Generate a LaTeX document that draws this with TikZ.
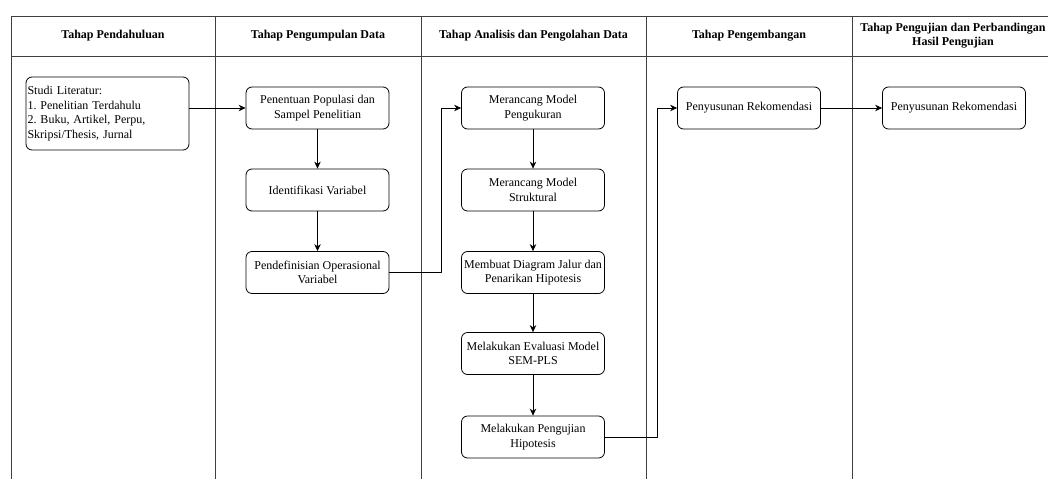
\documentclass[tikz,border=0pt]{standalone}
\usepackage{fontspec}
\setmainfont{Liberation Serif}
\usetikzlibrary{arrows.meta}
\frenchspacing
\begin{document}
\begin{tikzpicture}[x=1pt,y=-1pt,>={Stealth[length=7pt,width=6.5pt]}, line join=round,
	font=\fontsize{12}{14.5}\selectfont,
	kotak/.style={draw,rounded corners=6pt,line width=0.8pt,minimum width=143pt,minimum height=42pt,align=center,inner sep=1pt},
	judul/.style={font=\fontsize{12}{14}\selectfont\bfseries,align=center},
	garis/.style={line width=0.8pt}]
	\useasboundingbox (0,0) rectangle (1048,479);
	% tabel
	\draw[garis,black!75] (11,16)--(1048,16) (11,56)--(1048,56);
	\foreach \x in {11,215,421,646,852} \draw[garis,black!75] (\x,16)--(\x,479);
	\node[judul] (h1) at (113,36) {Tahap Pendahuluan};
	\node[judul] (h2) at (318,36) {Tahap Pengumpulan Data};
	\node[judul] (h3) at (533.5,36) {Tahap Analisis dan Pengolahan Data};
	\node[judul] (h4) at (749,36) {Tahap Pengembangan};
	\node[judul] (h5) at (953,36) {Tahap Pengujian dan Perbandingan\\Hasil Pengujian};
	% kotak
	\node[kotak,minimum width=163pt,minimum height=73pt,align=left,text width=160pt] (studi) at (107.5,113.5) {Studi Literatur:\\1. Penelitian Terdahulu\\2. Buku, Artikel, Perpu,\\Skripsi/Thesis, Jurnal};
	\node[kotak] (populasi) at (317.5,108) {Penentuan Populasi dan\\Sampel Penelitian};
	\node[kotak] (identifikasi) at (317.5,190) {Identifikasi Variabel};
	\node[kotak] (definisi) at (317.5,272.5) {Pendefinisian Operasional\\Variabel};
	\node[kotak] (ukur) at (533,108) {Merancang Model\\Pengukuran};
	\node[kotak] (struktur) at (533,190) {Merancang Model\\Struktural};
	\node[kotak] (jalur) at (533,272.5) {Membuat Diagram Jalur dan\\Penarikan Hipotesis};
	\node[kotak] (evaluasi) at (533,353.5) {Melakukan Evaluasi Model\\SEM-PLS};
	\node[kotak] (uji) at (533,437) {Melakukan Pengujian\\Hipotesis};
	\node[kotak] (rekom) at (749,108) {Penyusunan Rekomendasi};
	\node[kotak] (rekomuji) at (954,108) {Penyusunan Rekomendasi};
	% panah
	\draw[garis,->] (studi.east |- populasi.west) -- (populasi.west);
	\foreach \a/\b in {populasi/identifikasi,identifikasi/definisi,ukur/struktur,struktur/jalur,jalur/evaluasi,evaluasi/uji}
		\draw[garis,->] (\a) -- (\b);
	\draw[garis,->] (definisi.east) -- ++(52,0) |- (ukur.west);
	\draw[garis,->] (uji.east) -- ++(52,0) |- (rekom.west);
	\draw[garis,->] (rekom) -- (rekomuji);
\end{tikzpicture}
\end{document}
